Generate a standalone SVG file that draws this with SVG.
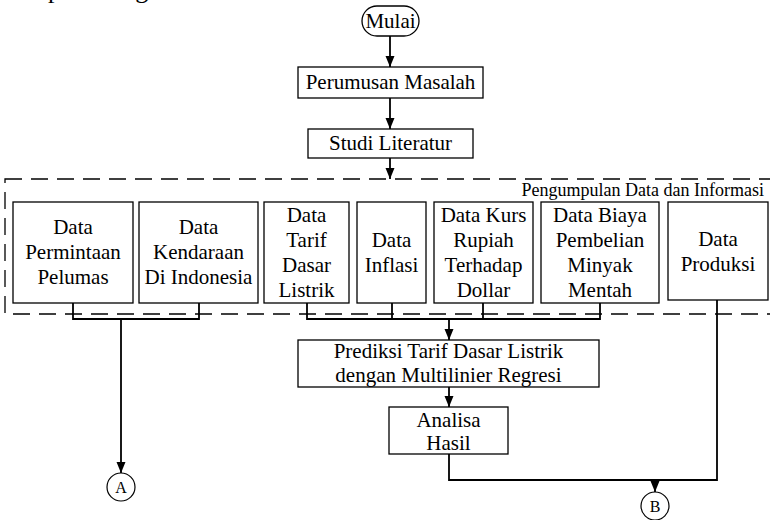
<svg xmlns="http://www.w3.org/2000/svg" width="770" height="520" viewBox="0 0 770 520" font-family="Liberation Serif, Times New Roman, serif">
  <style>
    .box { fill: #ffffff; stroke: #000000; stroke-width: 1.3; }
    .lbl { font-size: 21px; fill: #000000; text-anchor: middle; }
    .small { font-size: 18px; fill: #000000; }
    .conn { fill: none; stroke: #000000; stroke-width: 1.8; }
    .group { fill: none; stroke: #000000; stroke-width: 1.3; stroke-dasharray: 17 9; }
    .circ { fill: #ffffff; stroke: #000000; stroke-width: 1.2; }
    .cl { font-size: 16px; fill: #000000; text-anchor: middle; }
  </style>
  <defs>
    <marker id="arrow" markerUnits="userSpaceOnUse" markerWidth="12" markerHeight="10" refX="11" refY="4.5" orient="auto">
      <path d="M0,0 L11,4.5 L0,9 z" fill="#000000"/>
    </marker>
  </defs>

  <rect width="770" height="520" fill="#ffffff"/>

  <!-- running text above the chart, mostly outside the page area -->
  <text x="48" y="-2" font-size="26px" fill="#000000">pada diagram</text>

  <!-- dashed grouping frame for the data collection stage -->
  <g id="group-pengumpulan">
    <rect class="group" x="5" y="179" width="790" height="135"/>
    <text class="small" x="764" y="196" text-anchor="end">Pengumpulan Data dan Informasi</text>
  </g>

  <!-- connectors -->
  <g id="connectors">
    <line class="conn" x1="390" y1="36" x2="390" y2="67" marker-end="url(#arrow)"/>
    <line class="conn" x1="390" y1="98" x2="390" y2="129" marker-end="url(#arrow)"/>
    <line class="conn" x1="390" y1="158" x2="390" y2="179" marker-end="url(#arrow)"/>

    <path class="conn" d="M73,303 V319 H199 V303"/>
    <line class="conn" x1="121" y1="319" x2="121" y2="473" marker-end="url(#arrow)"/>

    <path class="conn" d="M307,303 V319 H600 V303"/>
    <line class="conn" x1="392" y1="303" x2="392" y2="319"/>
    <line class="conn" x1="483" y1="303" x2="483" y2="319"/>
    <line class="conn" x1="449" y1="319" x2="449" y2="340" marker-end="url(#arrow)"/>

    <line class="conn" x1="449" y1="387" x2="449" y2="407" marker-end="url(#arrow)"/>

    <path class="conn" d="M449,454 V480 H717 V300"/>
    <line class="conn" x1="655" y1="480" x2="655" y2="492" marker-end="url(#arrow)"/>
  </g>

  <g id="mulai">
    <rect class="box" x="362" y="6" width="57" height="30" rx="15" ry="15"/>
    <text class="lbl" x="390.5" y="28">Mulai</text>
  </g>

  <g id="perumusan-masalah">
    <rect class="box" x="298" y="67" width="185" height="31"/>
    <text class="lbl" x="390.5" y="89">Perumusan Masalah</text>
  </g>

  <g id="studi-literatur">
    <rect class="box" x="308" y="129" width="165" height="29"/>
    <text class="lbl" x="390.5" y="150">Studi Literatur</text>
  </g>

  <g id="data-permintaan-pelumas">
    <rect class="box" x="13" y="202" width="120" height="101"/>
    <text class="lbl" x="73" y="234">Data</text>
    <text class="lbl" x="73" y="259">Permintaan</text>
    <text class="lbl" x="73" y="284">Pelumas</text>
  </g>

  <g id="data-kendaraan">
    <rect class="box" x="139" y="202" width="119" height="101"/>
    <text class="lbl" x="198.5" y="234">Data</text>
    <text class="lbl" x="198.5" y="259">Kendaraan</text>
    <text class="lbl" x="198.5" y="284">Di Indonesia</text>
  </g>

  <g id="data-tarif-dasar-listrik">
    <rect class="box" x="264" y="202" width="85" height="101"/>
    <text class="lbl" x="306.5" y="222">Data</text>
    <text class="lbl" x="306.5" y="247">Tarif</text>
    <text class="lbl" x="306.5" y="272">Dasar</text>
    <text class="lbl" x="306.5" y="297">Listrik</text>
  </g>

  <g id="data-inflasi">
    <rect class="box" x="357" y="202" width="69" height="101"/>
    <text class="lbl" x="391.5" y="247">Data</text>
    <text class="lbl" x="391.5" y="272">Inflasi</text>
  </g>

  <g id="data-kurs">
    <rect class="box" x="434" y="202" width="99" height="101"/>
    <text class="lbl" x="483.5" y="222">Data Kurs</text>
    <text class="lbl" x="483.5" y="247">Rupiah</text>
    <text class="lbl" x="483.5" y="272">Terhadap</text>
    <text class="lbl" x="483.5" y="297">Dollar</text>
  </g>

  <g id="data-biaya-minyak">
    <rect class="box" x="541" y="202" width="118" height="101"/>
    <text class="lbl" x="600" y="222">Data Biaya</text>
    <text class="lbl" x="600" y="247">Pembelian</text>
    <text class="lbl" x="600" y="272">Minyak</text>
    <text class="lbl" x="600" y="297">Mentah</text>
  </g>

  <g id="data-produksi">
    <rect class="box" x="668" y="202" width="100" height="98"/>
    <text class="lbl" x="718" y="246">Data</text>
    <text class="lbl" x="718" y="271">Produksi</text>
  </g>

  <g id="prediksi">
    <rect class="box" x="298" y="340" width="301" height="47"/>
    <text class="lbl" x="448.5" y="358">Prediksi Tarif Dasar Listrik</text>
    <text class="lbl" x="448.5" y="382">dengan Multilinier Regresi</text>
  </g>

  <g id="analisa-hasil">
    <rect class="box" x="389" y="407" width="119" height="47"/>
    <text class="lbl" x="448.5" y="427">Analisa</text>
    <text class="lbl" x="448.5" y="450">Hasil</text>
  </g>

  <g id="konektor-a">
    <circle class="circ" cx="121" cy="487" r="14"/>
    <text class="cl" x="121" y="493">A</text>
  </g>

  <g id="konektor-b">
    <circle class="circ" cx="655" cy="506" r="14"/>
    <text class="cl" x="655" y="512">B</text>
  </g>
</svg>
